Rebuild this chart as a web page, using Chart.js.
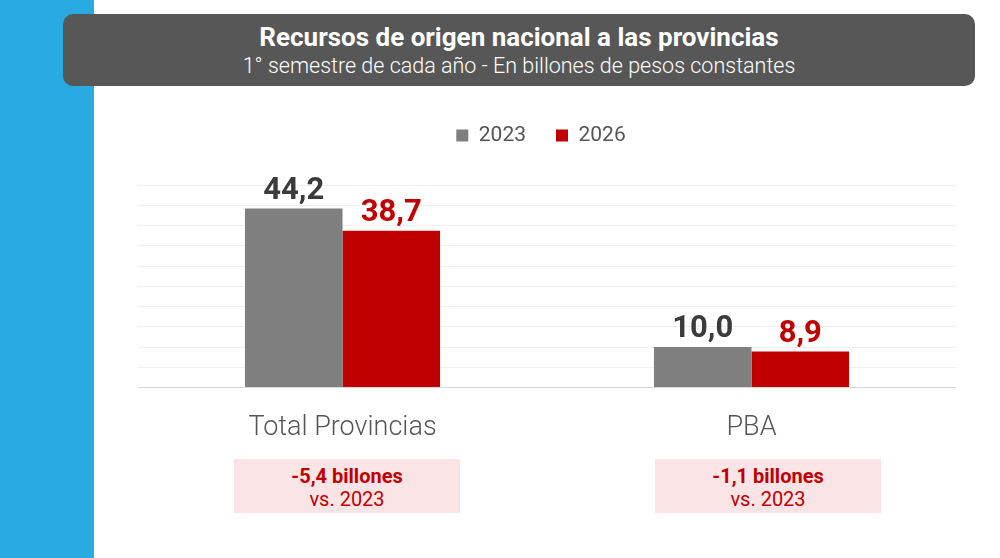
<!DOCTYPE html>
<html>
<head>
<meta charset="utf-8">
<script src="https://cdn.jsdelivr.net/npm/chart.js@4.4.1/dist/chart.umd.min.js"></script>
<style>
  body { margin: 0; width: 1000px; height: 558px; background: #fff; position: relative; overflow: hidden; font-family: Roboto, sans-serif; }
  .strip { position: absolute; left: 0; top: 0; width: 94px; height: 558px; background: #29abe2; }
  .titleBox { position: absolute; left: 63px; top: 14px; width: 912px; height: 72px; background: #575757; border-radius: 10px; color: #fff; text-align: center; }
  .titleBox .t1 { font-weight: 700; font-size: 26px; margin-top: 8px; line-height: 30px; }
  .titleBox .t2 { font-weight: 300; font-size: 21.5px; line-height: 27px; }
  #chartCanvas { position: absolute; left: 94px; top: 95px; }
  .diff { position: absolute; top: 459px; width: 226px; height: 54px; background: #fbe4e6; color: #c00000; text-align: center; font-size: 20px; }
  .diff b { display: block; margin-top: 5px; line-height: 24px; }
  .diff span { display: block; line-height: 22px; }
</style>
</head>
<body>
<div class="strip"></div>
<div class="titleBox">
  <div class="t1">Recursos de origen nacional a las provincias</div>
  <div class="t2">1° semestre de cada año - En billones de pesos constantes</div>
</div>
<canvas id="chartCanvas" width="892" height="381"></canvas>
<div id="diffs"></div>

<script>
// data
const categories = ['Total Provincias', 'PBA'];
const seriesNames = ['2023', '2026'];
const values2023 = [44.2, 10.0];
const values2026 = [38.7, 8.9];
const diffLabels = ['-5,4 billones', '-1,1 billones'];
const diffNotes = ['vs. 2023', 'vs. 2023'];
const diffLefts = [234, 655];

const barColors = ['#7f7f7f', '#c00000'];
const labelColors = ['#3b3b3b', '#c00000'];

// value labels above each bar
const valueLabels = {
    id: 'valueLabels',
    afterDatasetsDraw(chart) {
        const ctx = chart.ctx;
        ctx.save();
        ctx.font = 'bold 31px Roboto';
        ctx.textAlign = 'center';
        ctx.textBaseline = 'alphabetic';
        chart.data.datasets.forEach((ds, i) => {
            const meta = chart.getDatasetMeta(i);
            meta.data.forEach((bar, j) => {
                ctx.fillStyle = labelColors[i];
                ctx.fillText(ds.data[j].toFixed(1).replace('.', ','), bar.x, bar.y - 10);
            });
        });
        ctx.restore();
    }
};

// extra space under the legend, and nudge it left a little
const legendGap = {
    id: 'legendGap',
    beforeInit(chart) {
        const origFit = chart.legend.fit;
        chart.legend.fit = function () {
            origFit.bind(chart.legend)();
            this.height += 29;
        };
    },
    afterLayout(chart) {
        chart.legend.left -= 6;
        chart.legend.right -= 6;
    }
};

new Chart(document.getElementById('chartCanvas').getContext('2d'), {
    type: 'bar',
    data: {
        labels: categories,
        datasets: [
            { label: seriesNames[0], data: values2023, backgroundColor: barColors[0] },
            { label: seriesNames[1], data: values2026, backgroundColor: barColors[1] }
        ]
    },
    options: {
        responsive: false,
        animation: false,
        categoryPercentage: 0.477,
        barPercentage: 1,
        layout: { padding: { left: 44, right: 30, top: 0, bottom: 8 } },
        plugins: {
            legend: {
                position: 'top',
                labels: {
                    boxWidth: 12,
                    boxHeight: 12,
                    padding: 30,
                    color: '#555',
                    font: { family: 'Roboto', size: 21 }
                }
            },
            tooltip: { enabled: false }
        },
        scales: {
            x: {
                grid: { display: false, drawTicks: false },
                border: { display: false },
                ticks: {
                    color: '#555',
                    padding: 24,
                    font: { family: 'Roboto', size: 27, weight: '300' }
                }
            },
            y: {
                min: 0,
                max: 50,
                ticks: { display: false, stepSize: 5 },
                border: { display: false },
                grid: {
                    drawTicks: false,
                    color: function (c) { return c.tick.value === 0 ? '#d9d9d9' : '#f0f0f0'; }
                }
            }
        }
    },
    plugins: [valueLabels, legendGap]
});

// difference boxes under each category
const diffs = document.getElementById('diffs');
categories.forEach((c, i) => {
    diffs.insertAdjacentHTML('beforeend',
        `<div class="diff" style="left:${diffLefts[i]}px"><b>${diffLabels[i]}</b><span>${diffNotes[i]}</span></div>`);
});
</script>
</body>
</html>
